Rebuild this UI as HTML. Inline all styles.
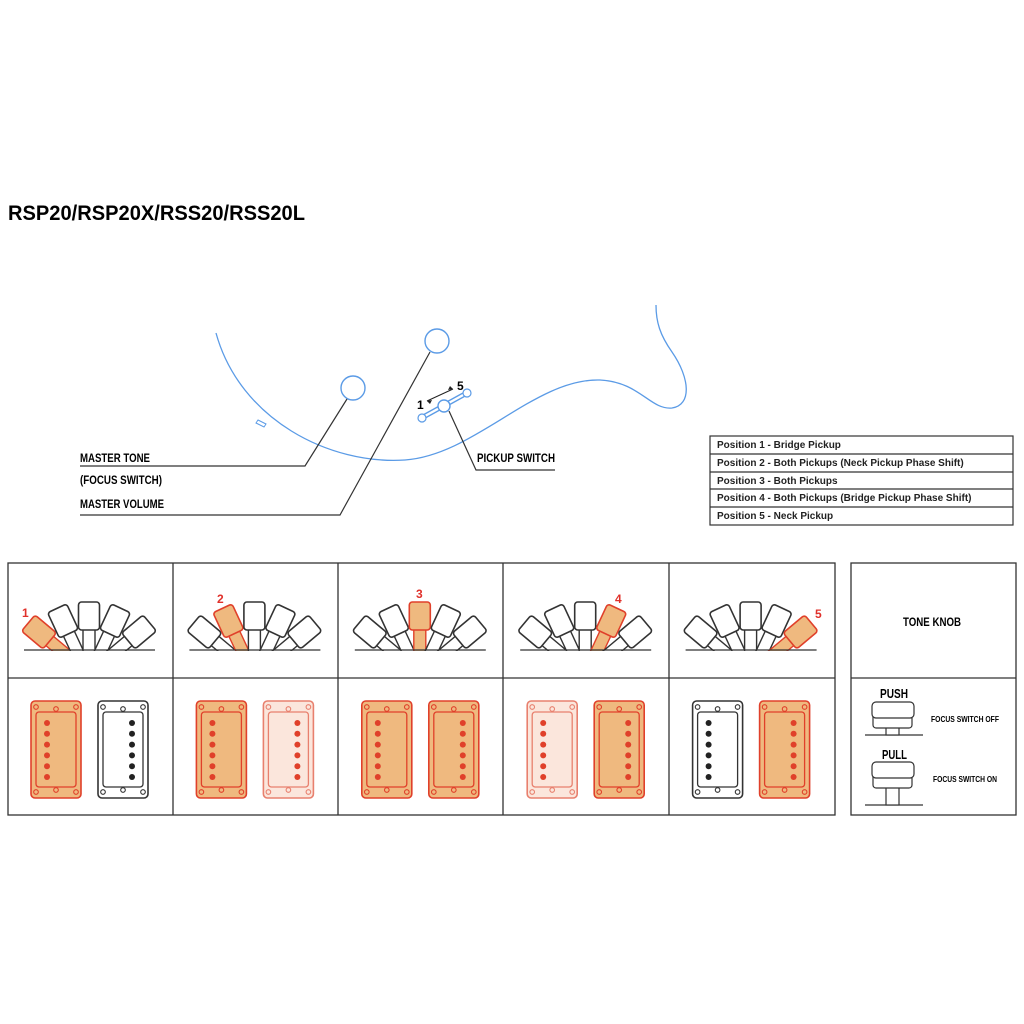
<!DOCTYPE html>
<html><head><meta charset="utf-8"><style>
html,body{margin:0;padding:0;background:#fff;}
svg{display:block;}
text{font-family:"Liberation Sans",sans-serif;font-weight:bold;}
</style></head><body>
<svg id="s" width="1024" height="1024" viewBox="0 0 1024 1024" xmlns="http://www.w3.org/2000/svg">
<defs>
<g id="pkL"><rect x="0" y="0" width="50" height="97" rx="4" stroke-width="1.6"/><rect x="5" y="11" width="40" height="75" rx="3" stroke-width="1.3"/>
<g fill="none" stroke-width="1.1"><circle cx="5" cy="6" r="2.3"/><circle cx="25" cy="8" r="2.3"/><circle cx="45" cy="6" r="2.3"/><circle cx="5" cy="91" r="2.3"/><circle cx="25" cy="89" r="2.3"/><circle cx="45" cy="91" r="2.3"/></g>
<g fill="currentColor" stroke="none"><circle cx="16" cy="22" r="3"/><circle cx="16" cy="32.8" r="3"/><circle cx="16" cy="43.6" r="3"/><circle cx="16" cy="54.4" r="3"/><circle cx="16" cy="65.2" r="3"/><circle cx="16" cy="76" r="3"/></g></g>
<g id="pkR"><rect x="0" y="0" width="50" height="97" rx="4" stroke-width="1.6"/><rect x="5" y="11" width="40" height="75" rx="3" stroke-width="1.3"/>
<g fill="none" stroke-width="1.1"><circle cx="5" cy="6" r="2.3"/><circle cx="25" cy="8" r="2.3"/><circle cx="45" cy="6" r="2.3"/><circle cx="5" cy="91" r="2.3"/><circle cx="25" cy="89" r="2.3"/><circle cx="45" cy="91" r="2.3"/></g>
<g fill="currentColor" stroke="none"><circle cx="34" cy="22" r="3"/><circle cx="34" cy="32.8" r="3"/><circle cx="34" cy="43.6" r="3"/><circle cx="34" cy="54.4" r="3"/><circle cx="34" cy="65.2" r="3"/><circle cx="34" cy="76" r="3"/></g></g>
<g id="lev"><rect x="-6" y="12" width="12" height="34" stroke-width="1.4"/><rect x="-10.5" y="-14" width="21" height="28" rx="3" stroke-width="1.6"/></g>
</defs>
<text x="8" y="220" font-size="21" textLength="297" lengthAdjust="spacingAndGlyphs">RSP20/RSP20X/RSS20/RSS20L</text>
<path d="M216,333 C240,420 330,465 405,460 C475,455 535,378 600,380 C640,382 650,410 672,408 C692,405 690,378 672,352 C660,335 656,322 656,305" fill="none" stroke="#5b9be6" stroke-width="1.3"/>
<path d="M258,420 l8,4 l-2,3 l-8,-4z" fill="none" stroke="#5b9be6" stroke-width="1"/>
<circle cx="353" cy="388" r="12" fill="#fff" stroke="#5b9be6" stroke-width="1.4"/>
<circle cx="437" cy="341" r="12" fill="#fff" stroke="#5b9be6" stroke-width="1.4"/>
<polyline points="347,399 305,466 80,466" fill="none" stroke="#333" stroke-width="1.2"/>
<polyline points="430,352 340,515 80,515" fill="none" stroke="#333" stroke-width="1.2"/>
<polyline points="449,411 476,470 555,470" fill="none" stroke="#333" stroke-width="1.2"/>
<line x1="425" y1="416" x2="465" y2="394" stroke="#5b9be6" stroke-width="5" stroke-linecap="round"/>
<line x1="425" y1="416" x2="465" y2="394" stroke="#fff" stroke-width="2.4" stroke-linecap="round"/>
<circle cx="422" cy="418" r="4" fill="#fff" stroke="#5b9be6" stroke-width="1.2"/>
<circle cx="467" cy="393" r="4" fill="#fff" stroke="#5b9be6" stroke-width="1.2"/>
<circle cx="444" cy="406" r="6" fill="#fff" stroke="#5b9be6" stroke-width="1.4"/>
<line x1="427" y1="401" x2="453" y2="389" stroke="#222" stroke-width="1"/>
<path d="M427,401 l5,-1 l-2,4z M453,389 l-5,1 l2,-4z" fill="#222"/>
<text x="417" y="409" font-size="12">1</text>
<text x="457" y="390" font-size="12">5</text>
<g font-size="11.5" lengthAdjust="spacingAndGlyphs">
<text x="80" y="462" textLength="70" lengthAdjust="spacingAndGlyphs">MASTER TONE</text>
<text x="80" y="484" textLength="82" lengthAdjust="spacingAndGlyphs">(FOCUS SWITCH)</text>
<text x="80" y="508" textLength="84" lengthAdjust="spacingAndGlyphs">MASTER VOLUME</text>
<text x="477" y="462" textLength="78" lengthAdjust="spacingAndGlyphs">PICKUP SWITCH</text>
</g>
<g stroke="#333" stroke-width="1.2" fill="none">
<rect x="710" y="436" width="303" height="89"/>
<line x1="710" y1="454" x2="1013" y2="454"/><line x1="710" y1="472" x2="1013" y2="472"/><line x1="710" y1="489" x2="1013" y2="489"/><line x1="710" y1="507" x2="1013" y2="507"/>
</g>
<g font-size="10" fill="#222">
<text x="717" y="448">Position 1 -  Bridge Pickup</text>
<text x="717" y="466">Position 2 - Both Pickups (Neck Pickup Phase Shift)</text>
<text x="717" y="484">Position 3 - Both Pickups</text>
<text x="717" y="501">Position 4 - Both Pickups (Bridge Pickup Phase Shift)</text>
<text x="717" y="519">Position 5 - Neck Pickup</text>
</g>
<g id="gen"></g>
<g stroke="#333" stroke-width="1.3" fill="none">
<rect x="8" y="563" width="827" height="252"/>
<line x1="8" y1="678" x2="835" y2="678"/>
<line x1="173" y1="563" x2="173" y2="815"/><line x1="338" y1="563" x2="338" y2="815"/><line x1="503" y1="563" x2="503" y2="815"/><line x1="669" y1="563" x2="669" y2="815"/>
<rect x="851" y="563" width="165" height="252"/>
<line x1="851" y1="678" x2="1016" y2="678"/>
</g>
<g font-size="12" fill="#e0302a">
<text x="22" y="617">1</text><text x="217" y="603">2</text><text x="416" y="598">3</text><text x="615" y="603">4</text><text x="815" y="618">5</text>
</g>
<text x="903" y="626" font-size="11.5" textLength="58" lengthAdjust="spacingAndGlyphs">TONE KNOB</text>
<text x="880" y="698" font-size="13" textLength="28" lengthAdjust="spacingAndGlyphs">PUSH</text>
<text x="882" y="759" font-size="13" textLength="25" lengthAdjust="spacingAndGlyphs">PULL</text>
<text x="931" y="722" font-size="8.5" textLength="68" lengthAdjust="spacingAndGlyphs">FOCUS SWITCH OFF</text>
<text x="933" y="782" font-size="8.5" textLength="64" lengthAdjust="spacingAndGlyphs">FOCUS SWITCH ON</text>
<g stroke="#333" stroke-width="1.2" fill="#fff">
<line x1="865" y1="735" x2="923" y2="735"/>
<rect x="886" y="727" width="13" height="8"/>
<rect x="873" y="713" width="39" height="15" rx="3"/>
<rect x="872" y="702" width="42" height="16" rx="4"/>
<line x1="865" y1="805" x2="923" y2="805"/>
<rect x="886" y="787" width="13" height="18"/>
<rect x="873" y="773" width="39" height="15" rx="3"/>
<rect x="872" y="762" width="42" height="16" rx="4"/>
</g>
</svg>
<script>
(function(){
var g=document.getElementById('gen'),h='';
var OR={f:'#efb97f',s:'#e0402a',c:'#e0402a'},LT={f:'#fbe6dc',s:'#e8806e',c:'#e0402a'},BK={f:'#fff',s:'#333',c:'#222'};
var pk=[[OR,BK],[OR,LT],[OR,OR],[LT,OR],[BK,OR]];
var dx=[-50,-26,0,26,50],dy=[632,621,616,621,632],rot=[-50,-25,0,25,50];
for(var i=0;i<5;i++){
 var L=8+165.4*i,cx=L+81;
 for(var j=0;j<5;j++){
  var a=(j==i);
  h+='<use href="#lev" transform="translate('+(cx+dx[j])+','+dy[j]+') rotate('+rot[j]+')" fill="'+(a?'#efb97f':'#fff')+'" stroke="'+(a?'#e0402a':'#333')+'"/>';
 }
 h+='<rect x="'+(L+1)+'" y="651" width="163" height="27" fill="#fff"/>';
 h+='<line x1="'+(L+16)+'" y1="650" x2="'+(L+147)+'" y2="650" stroke="#333" stroke-width="1.3"/>';
 var p=pk[i];
 h+='<use href="#pkL" x="'+(L+23)+'" y="701" fill="'+p[0].f+'" stroke="'+p[0].s+'" color="'+p[0].c+'"/>';
 h+='<use href="#pkR" x="'+(L+90)+'" y="701" fill="'+p[1].f+'" stroke="'+p[1].s+'" color="'+p[1].c+'"/>';
}
g.innerHTML=h;
})();
</script>
</body></html>
